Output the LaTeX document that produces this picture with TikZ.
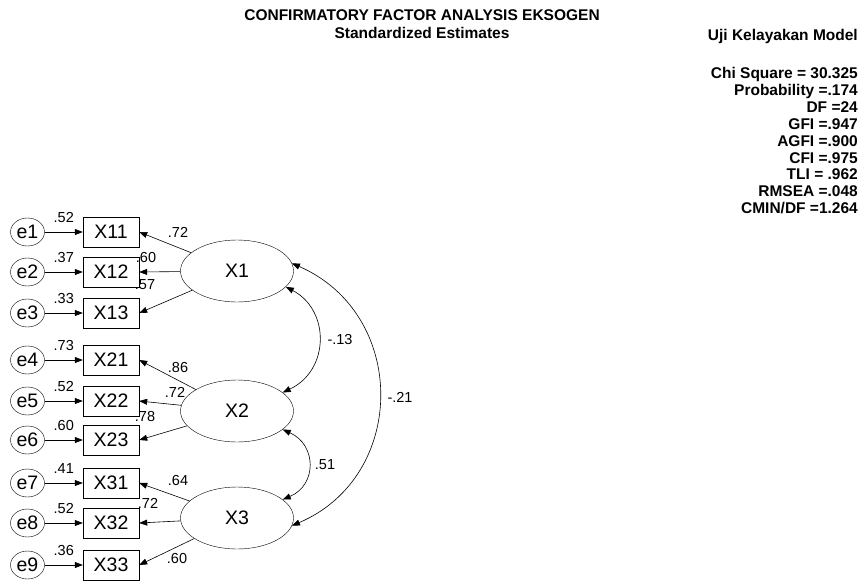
\documentclass[tikz,border=0pt]{standalone}
\usepackage{fontspec}
\setmainfont{Liberation Sans}
\usetikzlibrary{shapes.geometric,arrows.meta}

\begin{document}
\begin{tikzpicture}[x=1pt,y=-1pt,
            err/.style={ellipse,draw,minimum width=34pt,minimum height=28pt,
                inner sep=0pt,font=\fontsize{19.5}{22}\selectfont},
            obs/.style={rectangle,draw,minimum width=56pt,minimum height=30pt,
                inner sep=0pt,font=\fontsize{19.5}{22}\selectfont},
            lat/.style={ellipse,draw,minimum width=113pt,minimum height=62pt,
                inner sep=0pt,font=\fontsize{19.5}{22}\selectfont},
            lbl/.style={inner sep=1pt,font=\fontsize{14.5}{16}\selectfont},
            hd/.style={inner sep=0pt,font=\bfseries\fontsize{15.5}{17}\selectfont},
            arr/.style={-{Triangle[length=8pt,width=6pt]},line width=0.6pt},
            cov/.style={{Triangle[length=8pt,width=6pt]}-{Triangle[length=8pt,width=6pt]},
                line width=0.6pt}
        ]
        \useasboundingbox (0,0) rectangle (861,581);

        % title and fit indices
        \node[hd,anchor=base] (title) at (422,20.5) {CONFIRMATORY FACTOR ANALYSIS EKSOGEN};
        \node[hd,anchor=base] (sub) at (422,38.5) {Standardized Estimates};
        \node[hd,anchor=base east] (uji) at (858,40.5) {Uji Kelayakan Model};
        \foreach \s [count=\i] in {Chi Square = 30.325, Probability =.174, DF =24,
                GFI =.947, AGFI =.900, CFI =.975, TLI = .962, RMSEA =.048, CMIN/DF =1.264}
            \node[hd,anchor=base east] (fit\i) at (858,{78.5+16.9*(\i-1)}) {\s};

        % latent factors
        \node[lat] (X1) at (237,271) {X1};
        \node[lat] (X2) at (237,411) {X2};
        \node[lat] (X3) at (237,518) {X3};

        % indicators
        \node[obs] (X11) at (111,232) {X11};
        \node[obs] (X12) at (111,272) {X12};
        \node[obs] (X13) at (111,313) {X13};
        \node[obs] (X21) at (111,360) {X21};
        \node[obs] (X22) at (111,401) {X22};
        \node[obs] (X23) at (111,440) {X23};
        \node[obs] (X31) at (111,483) {X31};
        \node[obs] (X32) at (111,523) {X32};
        \node[obs] (X33) at (111,565) {X33};

        % errors
        \node[err] (e1) at (27.5,232) {e1};
        \node[err] (e2) at (27.5,272) {e2};
        \node[err] (e3) at (27.5,313) {e3};
        \node[err] (e4) at (27.5,360) {e4};
        \node[err] (e5) at (27.5,401) {e5};
        \node[err] (e6) at (27.5,440) {e6};
        \node[err] (e7) at (27.5,483) {e7};
        \node[err] (e8) at (27.5,523) {e8};
        \node[err] (e9) at (27.5,565) {e9};

        \draw[arr] (e1) -- node[lbl,above=8pt] {.52} (X11);
        \draw[arr] (e2) -- node[lbl,above=8pt] {.37} (X12);
        \draw[arr] (e3) -- node[lbl,above=8pt] {.33} (X13);
        \draw[arr] (e4) -- node[lbl,above=8pt] {.73} (X21);
        \draw[arr] (e5) -- node[lbl,above=8pt] {.52} (X22);
        \draw[arr] (e6) -- node[lbl,above=8pt] {.60} (X23);
        \draw[arr] (e7) -- node[lbl,above=8pt] {.41} (X31);
        \draw[arr] (e8) -- node[lbl,above=8pt] {.52} (X32);
        \draw[arr] (e9) -- node[lbl,above=8pt] {.36} (X33);

        % loadings
        \draw[arr] (X1) -- (X11.east);
        \draw[arr] (X1) -- (X12.east);
        \draw[arr] (X1) -- (X13.east);
        \draw[arr] (X2) -- (X21.east);
        \draw[arr] (X2) -- (X22.east);
        \draw[arr] (X2) -- (X23.east);
        \draw[arr] (X3) -- (X31.east);
        \draw[arr] (X3) -- (X32.east);
        \draw[arr] (X3) -- (X33.east);
        \node[lbl] (w11) at (178,232) {.72};
        \node[lbl] (w12) at (146,258) {.60};
        \node[lbl] (w13) at (145,285) {.57};
        \node[lbl] (w21) at (178,368) {.86};
        \node[lbl] (w22) at (175,392) {.72};
        \node[lbl] (w23) at (145,417) {.78};
        \node[lbl] (w31) at (178,480) {.64};
        \node[lbl] (w32) at (148,503) {.72};
        \node[lbl] (w33) at (177,558) {.60};

        % correlations
        \draw[cov] (X1.-18) .. controls (330,310) and (330,370) .. (X2.22);
        \draw[cov] (X2.-22) .. controls (317,445) and (317,485) .. (X3.22);
        \draw[cov] (X1.8) .. controls (408,314) and (408,476) .. (X3.-8);
        \node[lbl] (r12) at (340,340) {-.13};
        \node[lbl] (r23) at (325,465) {.51};
        \node[lbl] (r13) at (400,397) {-.21};
    \end{tikzpicture}
\end{document}
